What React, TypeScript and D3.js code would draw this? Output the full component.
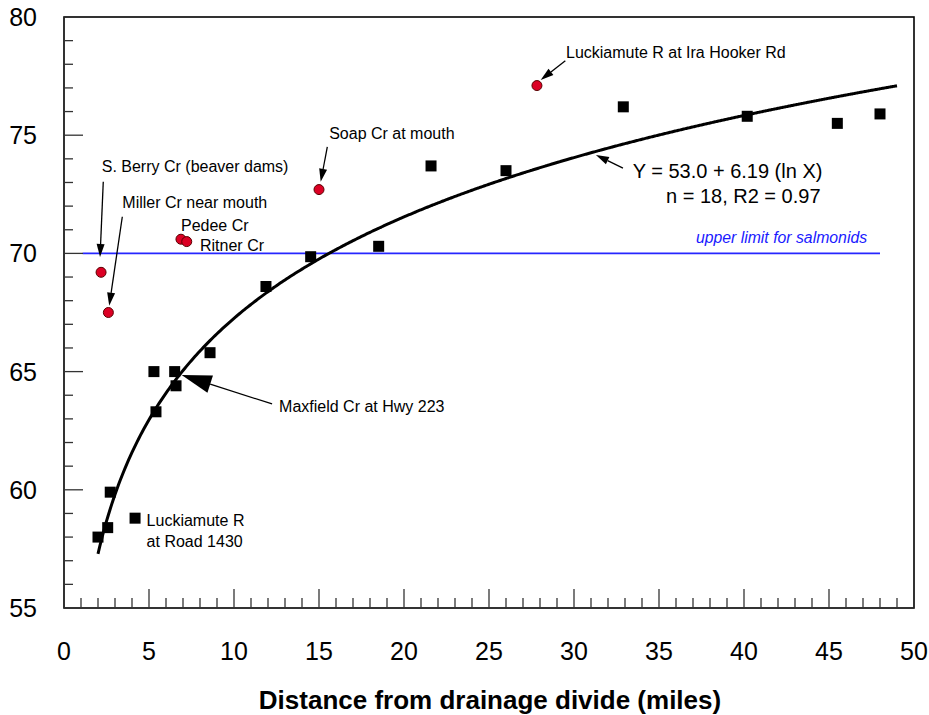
import React from "react";
import * as d3 from "d3";

const squaresX = [2.0, 2.57, 2.72, 4.18, 5.29, 6.51, 6.59, 5.41, 8.59, 11.88, 14.51, 18.51, 21.59, 26.0, 32.9, 40.19, 45.49, 48.0];
const squaresY = [58.0, 58.4, 59.9, 58.8, 65.0, 65.0, 64.4, 63.3, 65.8, 68.6, 69.86, 70.3, 73.7, 73.5, 76.2, 75.8, 75.5, 75.9];
const circlesX = [2.18, 2.61, 6.88, 7.22, 15.0, 27.82];
const circlesY = [69.2, 67.5, 70.6, 70.5, 72.7, 77.1];
const xTicks = [0, 5, 10, 15, 20, 25, 30, 35, 40, 45, 50];
const yTicks = [55, 60, 65, 70, 75, 80];
const fitA = 53.0;
const fitB = 6.19;
const limitY = 70;

const labels = [
  { t: "S. Berry Cr (beaver dams)", x: 2.22, y: 73.44 },
  { t: "Miller Cr near mouth", x: 3.43, y: 71.91 },
  { t: "Pedee Cr", x: 6.88, y: 70.96 },
  { t: "Ritner Cr", x: 8.0, y: 70.1 },
  { t: "Soap Cr at mouth", x: 15.6, y: 74.83 },
  { t: "Luckiamute R at Ira Hooker Rd", x: 29.53, y: 78.27 },
  { t: "Maxfield Cr at Hwy 223", x: 12.65, y: 63.29 },
  { t: "Luckiamute R", x: 4.86, y: 58.47 },
  { t: "at Road 1430", x: 4.86, y: 57.59 },
];
const eqLabels = [
  { t: "Y = 53.0 + 6.19 (ln X)", x: 33.45, y: 73.19 },
  { t: "n = 18, R2 = 0.97", x: 35.41, y: 72.13 },
];
const arrows = [
  { x1: 2.31, y1: 73.03, x2: 2.12, y2: 69.85, big: false },
  { x1: 3.43, y1: 71.55, x2: 2.66, y2: 67.79, big: false },
  { x1: 15.49, y1: 74.51, x2: 15.1, y2: 73.03, big: false },
  { x1: 29.49, y1: 78.15, x2: 28.04, y2: 77.34, big: false },
  { x1: 32.88, y1: 73.61, x2: 31.29, y2: 74.16, big: false },
  { x1: 12.24, y1: 63.63, x2: 6.92, y2: 64.86, big: true },
];

export default function App() {
  const W = 929, H = 715;
  const x = d3.scaleLinear().domain([0, 50]).range([64, 914]);
  const y = d3.scaleLinear().domain([55, 80]).range([608, 17]);
  const curveXs = d3.range(2.0, 49.05, 0.1);
  const line = d3
    .line<number>()
    .x((d) => x(d))
    .y((d) => y(fitA + fitB * Math.log(d)))
    .curve(d3.curveMonotoneX);
  const font = "Arial, 'Liberation Sans', Helvetica, sans-serif";

  const arrowEls = arrows.map((a, i) => {
    const X1 = x(a.x1), Y1 = y(a.y1), X2 = x(a.x2), Y2 = y(a.y2);
    const dx = X2 - X1, dy = Y2 - Y1;
    const len = Math.hypot(dx, dy);
    const ux = dx / len, uy = dy / len;
    const L = a.big ? 30 : 13;
    const hw = a.big ? 9 : 4;
    const bx = X2 - ux * L, by = Y2 - uy * L;
    const pts = [
      [X2, Y2],
      [bx - uy * hw, by + ux * hw],
      [bx + uy * hw, by - ux * hw],
    ];
    return (
      <g key={i}>
        <line x1={X1} y1={Y1} x2={bx} y2={by} stroke="#000" strokeWidth={1.3} />
        <polygon points={pts.map((p) => p.join(",")).join(" ")} fill="#000" />
      </g>
    );
  });

  const minorX = d3.range(0, 51, 1).filter((v) => v % 5 !== 0);
  const minorY = d3.range(55, 81, 1).filter((v) => v % 5 !== 0);

  return (
    <svg width={W} height={H} style={{ position: "absolute", left: 0, top: 0, background: "#fff" }} fontFamily={font}>
      <rect x={0} y={0} width={W} height={H} fill="#fff" />
      {/* limit line */}
      <line x1={x(1.1)} x2={x(48)} y1={y(limitY)} y2={y(limitY)} stroke="#2626ff" strokeWidth={1.6} />
      <text x={x(47.24)} y={y(70.44)} textAnchor="end" fontSize={15.8} fontStyle="italic" fill="#1a1aff">
        upper limit for salmonids
      </text>
      {/* fit curve */}
      <path d={line(curveXs) || ""} fill="none" stroke="#000" strokeWidth={3} />
      {/* squares */}
      {squaresX.map((v, i) => (
        <rect key={"s" + i} x={x(v) - 5.5} y={y(squaresY[i]) - 5.5} width={11} height={11} fill="#000" />
      ))}
      {/* circles */}
      {circlesX.map((v, i) => (
        <circle key={"c" + i} cx={x(v)} cy={y(circlesY[i])} r={5} fill="#dc0024" stroke="#5a0000" strokeWidth={1} />
      ))}
      {arrowEls}
      {labels.map((l, i) => (
        <text key={"l" + i} x={x(l.x)} y={y(l.y)} fontSize={16} fill="#000">
          {l.t}
        </text>
      ))}
      {eqLabels.map((l, i) => (
        <text key={"e" + i} x={x(l.x)} y={y(l.y)} fontSize={20} fill="#000">
          {l.t}
        </text>
      ))}
      {/* frame */}
      <rect x={64} y={17} width={850} height={591} fill="none" stroke="#000" strokeWidth={1.6} />
      {/* ticks */}
      {xTicks.map((v) => (
        <line key={"xt" + v} x1={x(v)} x2={x(v)} y1={608} y2={589} stroke="#333" strokeWidth={1.3} />
      ))}
      {minorX.map((v) => (
        <line key={"xm" + v} x1={x(v)} x2={x(v)} y1={608} y2={598} stroke="#333" strokeWidth={1.3} />
      ))}
      {yTicks.map((v) => (
        <line key={"yt" + v} x1={64} x2={83} y1={y(v)} y2={y(v)} stroke="#333" strokeWidth={1.3} />
      ))}
      {minorY.map((v) => (
        <line key={"ym" + v} x1={64} x2={73} y1={y(v)} y2={y(v)} stroke="#333" strokeWidth={1.3} />
      ))}
      {xTicks.map((v) => (
        <text key={"xl" + v} x={x(v)} y={660} textAnchor="middle" fontSize={25} fill="#000">
          {v}
        </text>
      ))}
      {yTicks.map((v) => (
        <text key={"yl" + v} x={37} y={y(v) + 9} textAnchor="end" fontSize={25} fill="#000">
          {v}
        </text>
      ))}
      <text x={490} y={709} textAnchor="middle" fontSize={26} fontWeight="bold" fill="#000">
        Distance from drainage divide (miles)
      </text>
    </svg>
  );
}
